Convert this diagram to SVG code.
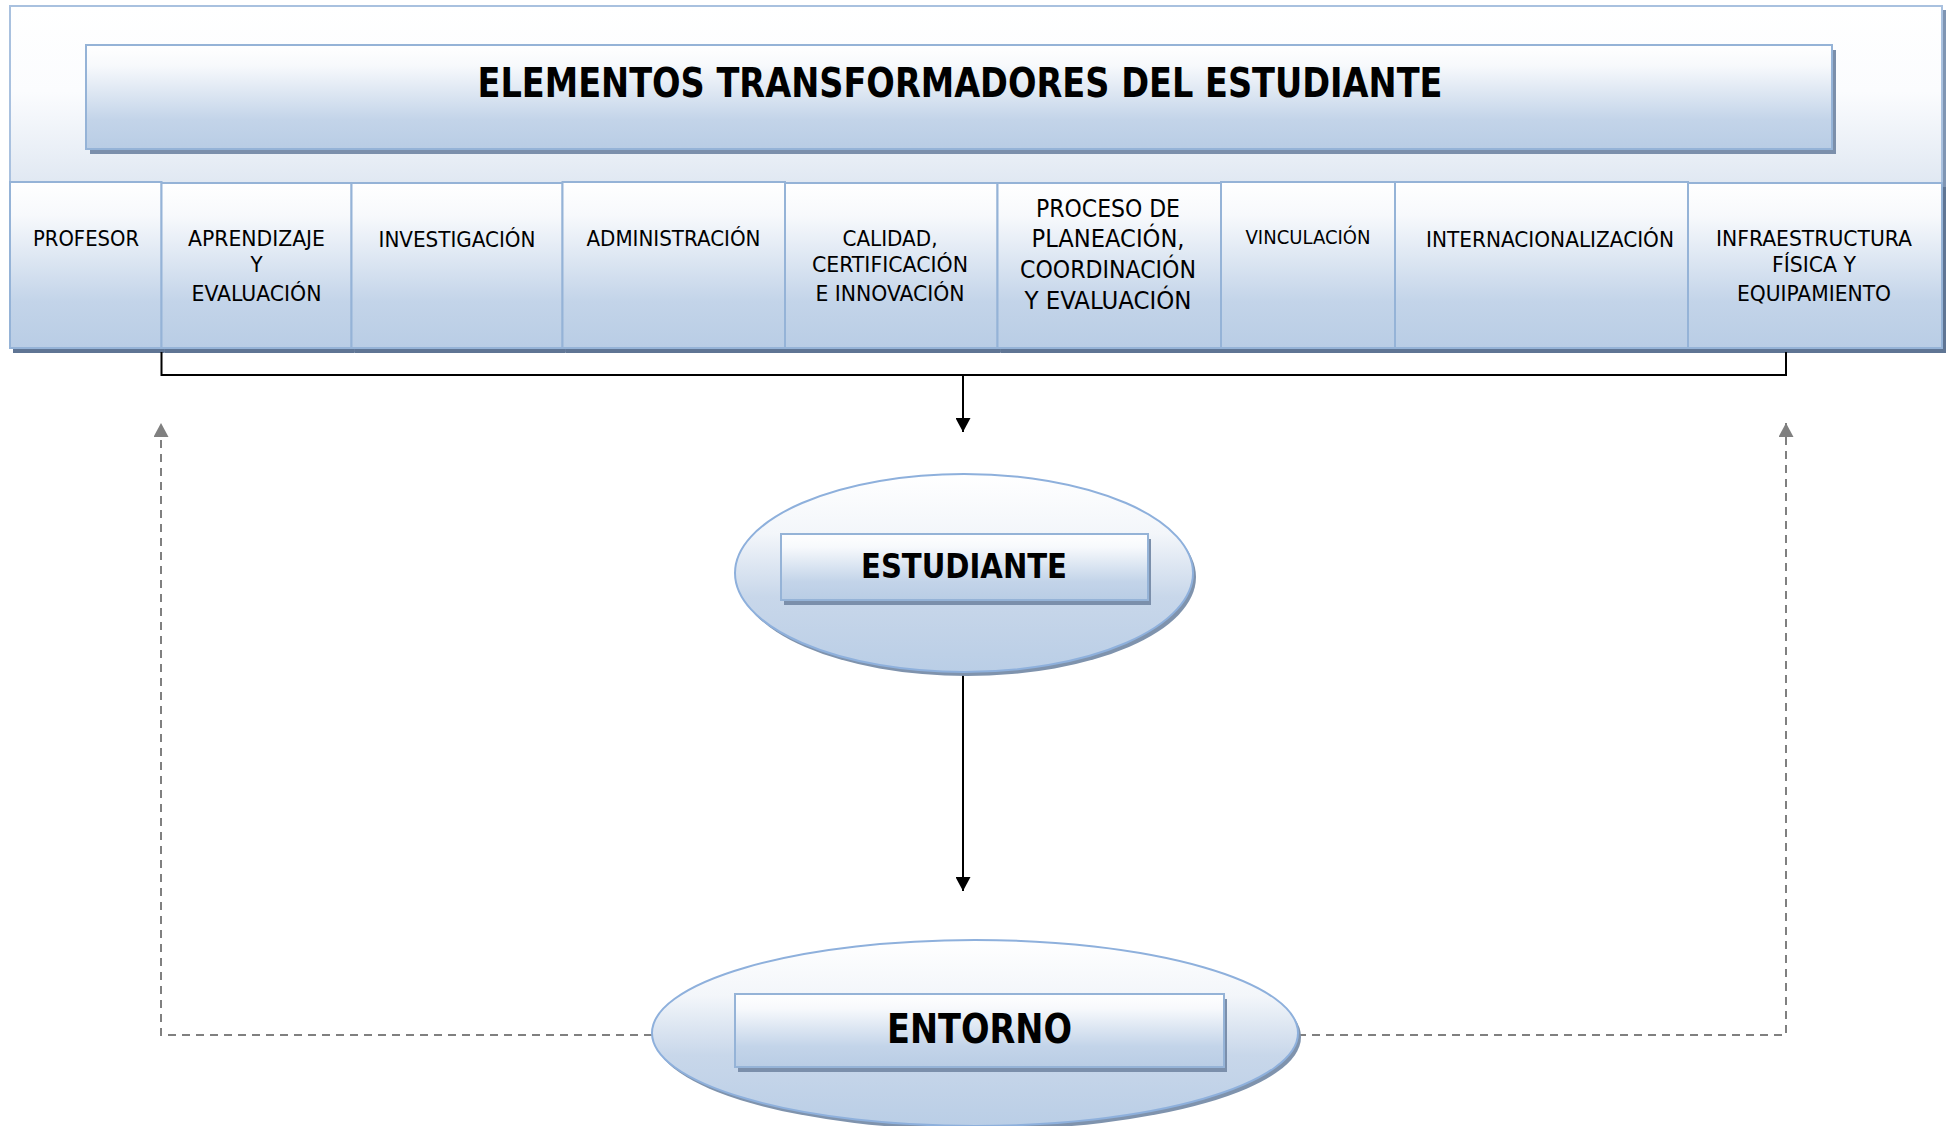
<svg xmlns="http://www.w3.org/2000/svg" width="1948" height="1126" viewBox="0 0 1948 1126">
<style>
  .lbl { font-family: "DejaVu Sans Condensed", "DejaVu Sans", sans-serif; font-stretch: condensed; fill: #000; text-anchor: middle; }
  .cell { font-size: 22px; }
  .big { font-weight: bold; }
  .cellbox { fill: url(#gCell); stroke: #95b3d7; stroke-width: 2; }
  .cellshadow { fill: #5f7594; }
  .boxshadow { fill: #7b8fab; }
  .conn { fill: none; stroke: #000; stroke-width: 2; }
  .dash { fill: none; stroke: #808080; stroke-width: 2; stroke-dasharray: 8 6; }
</style>
<defs>
  <linearGradient id="gOuter" x1="0" y1="0" x2="0" y2="1">
    <stop offset="0" stop-color="#ffffff"/>
    <stop offset="0.25" stop-color="#fbfcfe"/>
    <stop offset="0.52" stop-color="#e0e8f2"/>
    <stop offset="1" stop-color="#c4d5ea"/>
  </linearGradient>
  <linearGradient id="gCell" x1="0" y1="0" x2="0" y2="1">
    <stop offset="0" stop-color="#ffffff"/>
    <stop offset="0.2" stop-color="#f7f9fc"/>
    <stop offset="0.72" stop-color="#c3d4e9"/>
    <stop offset="1" stop-color="#b9cde5"/>
  </linearGradient>
  <linearGradient id="gEll" x1="0" y1="0" x2="0" y2="1">
    <stop offset="0" stop-color="#ffffff"/>
    <stop offset="0.3" stop-color="#f3f6fa"/>
    <stop offset="0.62" stop-color="#c8d7ea"/>
    <stop offset="1" stop-color="#bacee6"/>
  </linearGradient>
  <marker id="aBlack" viewBox="0 0 14 15" refX="14" refY="7.5" markerWidth="14" markerHeight="15" markerUnits="userSpaceOnUse" orient="auto">
    <path d="M0,0 L14,7.5 L0,15 z" fill="#000"/>
  </marker>
  <marker id="aGray" viewBox="0 0 14 15" refX="14" refY="7.5" markerWidth="14" markerHeight="15" markerUnits="userSpaceOnUse" orient="auto">
    <path d="M0,0 L14,7.5 L0,15 z" fill="#808080"/>
  </marker>
</defs>

<g id="frame">
  <rect x="14" y="10" width="1932" height="342" fill="#7f95b3"/>
  <rect x="10" y="6" width="1932" height="342" fill="url(#gOuter)" stroke="#a9c1df" stroke-width="2"/>
</g>

<g id="title">
  <rect class="boxshadow" x="90" y="50" width="1746" height="104"/>
  <rect class="cellbox" x="86" y="45" width="1746" height="104"/>
  <text class="lbl big" x="960" y="97" font-size="40" textLength="965" lengthAdjust="spacingAndGlyphs">ELEMENTOS TRANSFORMADORES DEL ESTUDIANTE</text>
</g>

<g id="profesor">
  <rect class="cellshadow" x="13" y="187" width="151.5" height="166"/>
  <rect class="cellbox" x="10" y="182" width="151.5" height="166"/>
  <text class="lbl cell" x="86" y="246" textLength="106" lengthAdjust="spacingAndGlyphs">PROFESOR</text>
</g>
<g id="aprendizaje">
  <rect class="cellshadow" x="164.5" y="187" width="190" height="166"/>
  <rect class="cellbox" x="161.5" y="183" width="190" height="165"/>
  <text class="lbl cell" x="256.5" y="246" textLength="137" lengthAdjust="spacingAndGlyphs">APRENDIZAJE</text>
  <text class="lbl cell" x="256.5" y="272">Y</text>
  <text class="lbl cell" x="256.5" y="300.5" textLength="130" lengthAdjust="spacingAndGlyphs">EVALUACIÓN</text>
</g>
<g id="investigacion">
  <rect class="cellshadow" x="354.5" y="187" width="211" height="166"/>
  <rect class="cellbox" x="351.5" y="183" width="211" height="165"/>
  <text class="lbl cell" x="457" y="246.5" textLength="157" lengthAdjust="spacingAndGlyphs">INVESTIGACIÓN</text>
</g>
<g id="administracion">
  <rect class="cellshadow" x="565.5" y="187" width="222.5" height="166"/>
  <rect class="cellbox" x="562.5" y="182" width="222.5" height="166"/>
  <text class="lbl cell" x="673.5" y="246" textLength="174" lengthAdjust="spacingAndGlyphs">ADMINISTRACIÓN</text>
</g>
<g id="calidad">
  <rect class="cellshadow" x="788" y="187" width="212.5" height="166"/>
  <rect class="cellbox" x="785" y="183" width="212.5" height="165"/>
  <text class="lbl cell" x="890" y="246" textLength="95" lengthAdjust="spacingAndGlyphs">CALIDAD,</text>
  <text class="lbl cell" x="890" y="271.5" textLength="156" lengthAdjust="spacingAndGlyphs">CERTIFICACIÓN</text>
  <text class="lbl cell" x="890" y="300.5" textLength="149" lengthAdjust="spacingAndGlyphs">E INNOVACIÓN</text>
</g>
<g id="proceso">
  <rect class="cellshadow" x="1000.5" y="187" width="223.5" height="166"/>
  <rect class="cellbox" x="997.5" y="183" width="223.5" height="165"/>
  <text class="lbl" font-size="24" x="1108" y="216.5" textLength="144" lengthAdjust="spacingAndGlyphs">PROCESO DE</text>
  <text class="lbl" font-size="24" x="1108" y="246.5" textLength="153" lengthAdjust="spacingAndGlyphs">PLANEACIÓN,</text>
  <text class="lbl" font-size="24" x="1108" y="277.5" textLength="176" lengthAdjust="spacingAndGlyphs">COORDINACIÓN</text>
  <text class="lbl" font-size="24" x="1108" y="309" textLength="167" lengthAdjust="spacingAndGlyphs">Y EVALUACIÓN</text>
</g>
<g id="vinculacion">
  <rect class="cellshadow" x="1224" y="187" width="174" height="166"/>
  <rect class="cellbox" x="1221" y="182" width="174" height="166"/>
  <text class="lbl" font-size="20" x="1308" y="244" textLength="125" lengthAdjust="spacingAndGlyphs">VINCULACIÓN</text>
</g>
<g id="internacionalizacion">
  <rect class="cellshadow" x="1398" y="187" width="293" height="166"/>
  <rect class="cellbox" x="1395" y="182" width="293" height="166"/>
  <text class="lbl cell" x="1550" y="246.5" textLength="248" lengthAdjust="spacingAndGlyphs">INTERNACIONALIZACIÓN</text>
</g>
<g id="infraestructura">
  <rect class="cellshadow" x="1691" y="187" width="255" height="166"/>
  <rect class="cellbox" x="1688" y="183" width="254" height="165"/>
  <text class="lbl cell" x="1814" y="246" textLength="196" lengthAdjust="spacingAndGlyphs">INFRAESTRUCTURA</text>
  <text class="lbl cell" x="1814" y="271.5" textLength="84" lengthAdjust="spacingAndGlyphs">FÍSICA Y</text>
  <text class="lbl cell" x="1814" y="300.5" textLength="154" lengthAdjust="spacingAndGlyphs">EQUIPAMIENTO</text>
</g>

<g id="connectors">
  <path class="conn" d="M161.5 352 V375 H1786 V352"/>
  <path class="conn" d="M963 375 V432" marker-end="url(#aBlack)"/>
  <path class="conn" d="M963 672 V891" marker-end="url(#aBlack)"/>
  <path class="dash" d="M652 1035 H161 V423" marker-end="url(#aGray)"/>
  <path class="dash" d="M1298 1035 H1786 V423" marker-end="url(#aGray)"/>
</g>

<g id="estudiante">
  <ellipse cx="967" cy="577" rx="229" ry="99" fill="#7f93ad"/>
  <ellipse cx="964" cy="573" rx="229" ry="99" fill="url(#gEll)" stroke="#8eb0dc" stroke-width="2"/>
  <rect class="boxshadow" x="784" y="539" width="367" height="66"/>
  <rect class="cellbox" x="781" y="534" width="367" height="66"/>
  <text class="lbl big" x="964" y="578" font-size="34" textLength="206" lengthAdjust="spacingAndGlyphs">ESTUDIANTE</text>
</g>

<g id="entorno">
  <ellipse cx="978" cy="1037" rx="323" ry="93" fill="#7f93ad"/>
  <ellipse cx="975" cy="1033" rx="323" ry="93" fill="url(#gEll)" stroke="#8eb0dc" stroke-width="2"/>
  <rect class="boxshadow" x="738" y="999" width="489" height="73"/>
  <rect class="cellbox" x="735" y="994" width="489" height="73"/>
  <text class="lbl big" x="979.5" y="1043" font-size="41" textLength="185" lengthAdjust="spacingAndGlyphs">ENTORNO</text>
</g>
</svg>
